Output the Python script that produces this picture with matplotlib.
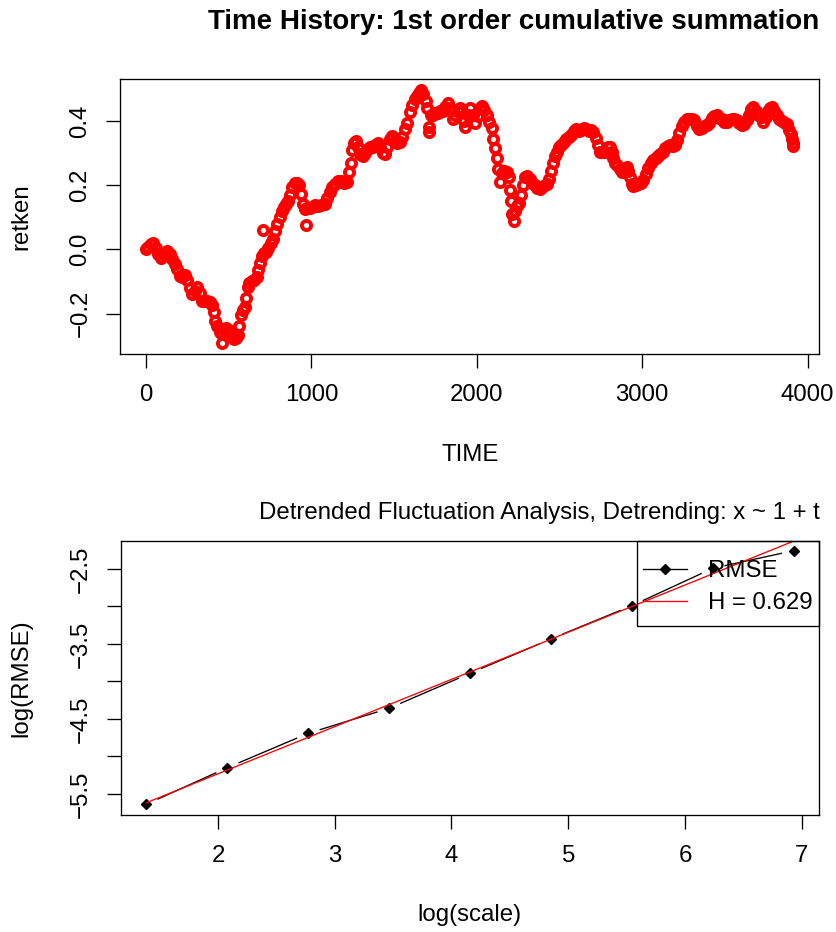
import numpy as np
import matplotlib
matplotlib.use("Agg")
import matplotlib.pyplot as plt
from matplotlib.lines import Line2D
from matplotlib.patches import Rectangle

plt.rcParams["font.family"] = ["Liberation Sans", "DejaVu Sans"]

# ── Data: cumulative summation ──────────────────────────────────────────────
TIME = [1, 15, 30, 45, 60, 75, 90, 110, 130, 145, 160, 175, 190, 205, 220, 235,
        250, 265, 280, 295, 310, 325, 340, 355, 370, 385, 400, 412, 420, 432,
        445, 455, 458, 470, 485, 500, 515, 530, 545, 558, 565, 572, 585, 598,
        606, 614, 625, 640, 655, 670, 680, 690, 700, 705, 712, 725, 740, 755,
        770, 782, 795, 808, 820, 832, 845, 860, 872, 885, 898, 912, 924, 935,
        948, 962, 966, 975,
        990, 1005, 1020, 1040, 1060, 1080, 1095, 1110, 1125, 1140, 1160, 1180,
        1200, 1215, 1228, 1238, 1248, 1258, 1270, 1282, 1295, 1310, 1325, 1340,
        1355, 1370, 1385, 1400, 1415, 1430, 1445, 1460, 1475, 1490, 1505, 1520,
        1535, 1550, 1565, 1580, 1595, 1610, 1625, 1640, 1652, 1663, 1675, 1690,
        1700, 1708, 1712, 1720, 1735, 1750, 1765, 1780, 1795, 1810, 1825, 1840,
        1855, 1870, 1885, 1898, 1910, 1920, 1930, 1945, 1960,
        1975, 1990, 2005, 2020, 2032, 2045, 2060, 2075, 2090, 2100, 2110, 2120,
        2130, 2138, 2150, 2165, 2180, 2192, 2200, 2208, 2215, 2222, 2230, 2240,
        2255, 2268, 2280, 2292, 2305, 2320, 2335, 2350, 2365, 2380, 2395, 2410,
        2425, 2438, 2448, 2458, 2470, 2482, 2495, 2510, 2525, 2540, 2555, 2570,
        2585, 2600, 2615, 2630, 2645, 2660, 2675, 2690, 2705, 2718, 2730, 2745,
        2760, 2775, 2790, 2805, 2815, 2825, 2835, 2850, 2865, 2880, 2895, 2905,
        2915, 2925, 2935, 2945, 2960, 2975, 2990, 3005,
        3020, 3035, 3050, 3065, 3080, 3095, 3110, 3125, 3140, 3155, 3170, 3185,
        3200, 3212, 3225, 3238, 3252, 3268, 3285, 3300, 3315, 3330, 3345, 3360,
        3375, 3390, 3405, 3420, 3435, 3450, 3465, 3480, 3495, 3510, 3525, 3540,
        3555, 3570, 3585, 3600, 3615, 3630, 3645, 3660, 3672, 3685, 3700, 3715,
        3730, 3745, 3760, 3772, 3785, 3798, 3812, 3828, 3845, 3860, 3875, 3888,
        3898, 3905, 3910, 3913]

RETKEN = [0.000, 0.008, 0.018, 0.020, 0.005, -0.015, -0.028, -0.018, -0.005,
          -0.015, -0.030, -0.045, -0.060, -0.082, -0.085, -0.080, -0.095, -0.120,
          -0.138, -0.130, -0.118, -0.135, -0.160, -0.162, -0.160, -0.165, -0.172,
          -0.195, -0.222, -0.240, -0.258, -0.262, -0.292, -0.250, -0.246, -0.250,
          -0.265, -0.280, -0.276, -0.268, -0.240, -0.205, -0.190, -0.180, -0.150,
          -0.118, -0.105, -0.100, -0.095, -0.085, -0.065, -0.042, -0.022, 0.060,
          -0.010, -0.008, 0.005, 0.020, 0.032, 0.058, 0.080, 0.100, 0.120, 0.132,
          0.140, 0.152, 0.170, 0.195, 0.208, 0.208, 0.200, 0.172, 0.140, 0.125,
          0.075, 0.128,
          0.130, 0.132, 0.138, 0.135, 0.138, 0.140, 0.160, 0.180, 0.195, 0.205,
          0.212, 0.212, 0.208, 0.210, 0.240, 0.270, 0.310, 0.332, 0.338, 0.318,
          0.298, 0.292, 0.300, 0.312, 0.318, 0.320, 0.325, 0.330, 0.318, 0.300,
          0.296, 0.318, 0.345, 0.352, 0.338, 0.330, 0.335, 0.350, 0.375, 0.395,
          0.428, 0.450, 0.470, 0.478, 0.488, 0.496, 0.485, 0.462, 0.440, 0.380,
          0.365, 0.420, 0.420, 0.425, 0.425, 0.430, 0.432, 0.445, 0.455, 0.440,
          0.405, 0.418, 0.435, 0.442, 0.430, 0.400, 0.380, 0.420, 0.440,
          0.420, 0.395, 0.415, 0.440, 0.448, 0.435, 0.418, 0.398, 0.377, 0.345,
          0.315, 0.285, 0.252, 0.210, 0.238, 0.245, 0.240, 0.225, 0.185, 0.150,
          0.110, 0.090, 0.120, 0.135, 0.145, 0.170, 0.200, 0.225, 0.230, 0.220,
          0.208, 0.200, 0.190, 0.187, 0.195, 0.200, 0.205, 0.220, 0.245, 0.270,
          0.290, 0.305, 0.318, 0.325, 0.335, 0.345, 0.350, 0.355, 0.370, 0.375,
          0.368, 0.372, 0.378, 0.376, 0.370, 0.372, 0.366, 0.348, 0.325, 0.305,
          0.302, 0.305, 0.318, 0.320, 0.305, 0.285, 0.268, 0.262, 0.250, 0.240,
          0.252, 0.258, 0.245, 0.225, 0.205, 0.198, 0.200, 0.205, 0.208, 0.215,
          0.235, 0.255, 0.270, 0.278, 0.285, 0.292, 0.298, 0.305, 0.315, 0.322,
          0.325, 0.322, 0.325, 0.340, 0.362, 0.385, 0.398, 0.405, 0.405, 0.405,
          0.402, 0.385, 0.375, 0.378, 0.385, 0.388, 0.395, 0.408, 0.415, 0.418,
          0.410, 0.405, 0.398, 0.398, 0.402, 0.405, 0.405, 0.402, 0.395, 0.388,
          0.392, 0.402, 0.418, 0.438, 0.445, 0.432, 0.420, 0.412, 0.398, 0.412,
          0.430, 0.442, 0.445, 0.432, 0.418, 0.405, 0.400, 0.395, 0.390, 0.372,
          0.360, 0.345, 0.332, 0.322]

# ── Data: DFA ────────────────────────────────────────────────────────────────
SCALES   = [4, 8, 16, 32, 64, 128, 256, 512, 1024]
LOG_RMSE = [-5.637, -5.149, -4.691, -4.357, -3.891, -3.433, -2.989, -2.491, -2.256]
H_SLOPE  = 0.629
FIT_ICPT = -6.488

RED = "#FF0000"
FS = 17.3

fig = plt.figure(figsize=(8.37, 9.32), dpi=100)
W, H = 837.0, 932.0

def axes_px(l, r, t, b):
    return fig.add_axes([l / W, 1 - b / H, (r - l) / W, (b - t) / H])

def style(ax):
    for s in ax.spines.values():
        s.set_linewidth(0.95)
    ax.tick_params(length=9.8, width=0.95, labelsize=FS, direction="out")
    ax.tick_params(axis="x", pad=12.0)
    ax.tick_params(axis="y", pad=11.0)
    for lab in ax.get_yticklabels():
        lab.set_rotation(90)
        lab.set_va("center")

# ── Top panel: time history ─────────────────────────────────────────────────
ax1 = axes_px(120.3, 819.3, 79.3, 353.7)
ax1.plot(TIME, RETKEN, linestyle="none", marker="o", markersize=6.6,
         markerfacecolor="none", markeredgecolor=RED, markeredgewidth=2.8)
ax1.set_xlim(-155, 4070)
ax1.set_ylim(-0.325, 0.530)
ax1.set_xticks([0, 1000, 2000, 3000, 4000])
ax1.set_xticklabels(["0", "1000", "2000", "3000", "4000"])
ax1.set_yticks([-0.2, 0.0, 0.2, 0.4])
ax1.set_yticklabels(["\u22120.2", "0.0", "0.2", "0.4"])
style(ax1)

fig.text(819.3 / W, 1 - 21.7 / H, "Time History: 1st order cumulative summation",
         ha="right", va="center", fontsize=20.0, fontweight="bold")
fig.text(21.7 / W, 1 - 216.5 / H, "retken", rotation=90, ha="center", va="center", fontsize=FS)
fig.text(469.8 / W, 1 - 455 / H, "TIME", ha="center", va="center", fontsize=FS)

# ── Bottom panel: DFA ───────────────────────────────────────────────────────
ax2 = axes_px(120.7, 819.3, 540.7, 814.7)
ax2.set_xlim(1.166, 7.151)
ax2.set_ylim(-5.776, -2.123)
log_scale = np.log(SCALES)
log_rmse = np.array(LOG_RMSE)

# type="b": segments with gaps around each point
pts = ax2.transData.transform(np.column_stack([log_scale, log_rmse]))
gap = 12.0
inv = ax2.transData.inverted()
for p0, p1 in zip(pts[:-1], pts[1:]):
    d = p1 - p0
    n = np.hypot(*d)
    if n <= 2 * gap:
        continue
    u = d / n
    seg = inv.transform(np.array([p0 + u * gap, p1 - u * gap]))
    ax2.plot(seg[:, 0], seg[:, 1], color="black", lw=0.95, solid_capstyle="butt")
ax2.plot(log_scale, log_rmse, linestyle="none", marker="D", markersize=5.2, color="black")

fit_x = np.array([log_scale[0], log_scale[-1]])
ax2.plot(fit_x, FIT_ICPT + H_SLOPE * fit_x, color=RED, lw=0.95)

ax2.set_xticks([2, 3, 4, 5, 6, 7])
ax2.set_xticklabels(["2", "3", "4", "5", "6", "7"])
ax2.set_yticks([-5.5, -5.0, -4.5, -4.0, -3.5, -3.0, -2.5])
ax2.set_yticklabels(["\u22125.5", "", "\u22124.5", "", "\u22123.5", "", "\u22122.5"])
style(ax2)

# legend box
def afx(px):
    return (px - 120.7) / 698.6

def afy(py):
    return (814.7 - py) / 274.0

ax2.add_patch(Rectangle((afx(637), afy(626)), 1 - afx(637), 1 - afy(626),
                        transform=ax2.transAxes, fill=False, edgecolor="black",
                        lw=0.95, clip_on=False, zorder=5))
handles = [
    Line2D([], [], color="black", lw=0.95, marker="D", markersize=5.2),
    Line2D([], [], color=RED, lw=0.95),
]
ax2.legend(handles, ["RMSE", "H = 0.629"], loc="upper left",
           bbox_to_anchor=(afx(643), afy(560)), frameon=False, fontsize=FS,
           borderpad=0, borderaxespad=0, handlelength=1.85, handletextpad=0.85,
           labelspacing=0.42)

fig.text(819.3 / W, 1 - 513 / H,
         "Detrended Fluctuation Analysis, Detrending: x ~ 1 + t",
         ha="right", va="center", fontsize=FS)
fig.text(21.7 / W, 1 - 677.7 / H, "log(RMSE)", rotation=90, ha="center", va="center", fontsize=FS)
fig.text(469.8 / W, 1 - 915 / H, "log(scale)", ha="center", va="center", fontsize=FS)

fig.savefig("out.png", dpi=100)
